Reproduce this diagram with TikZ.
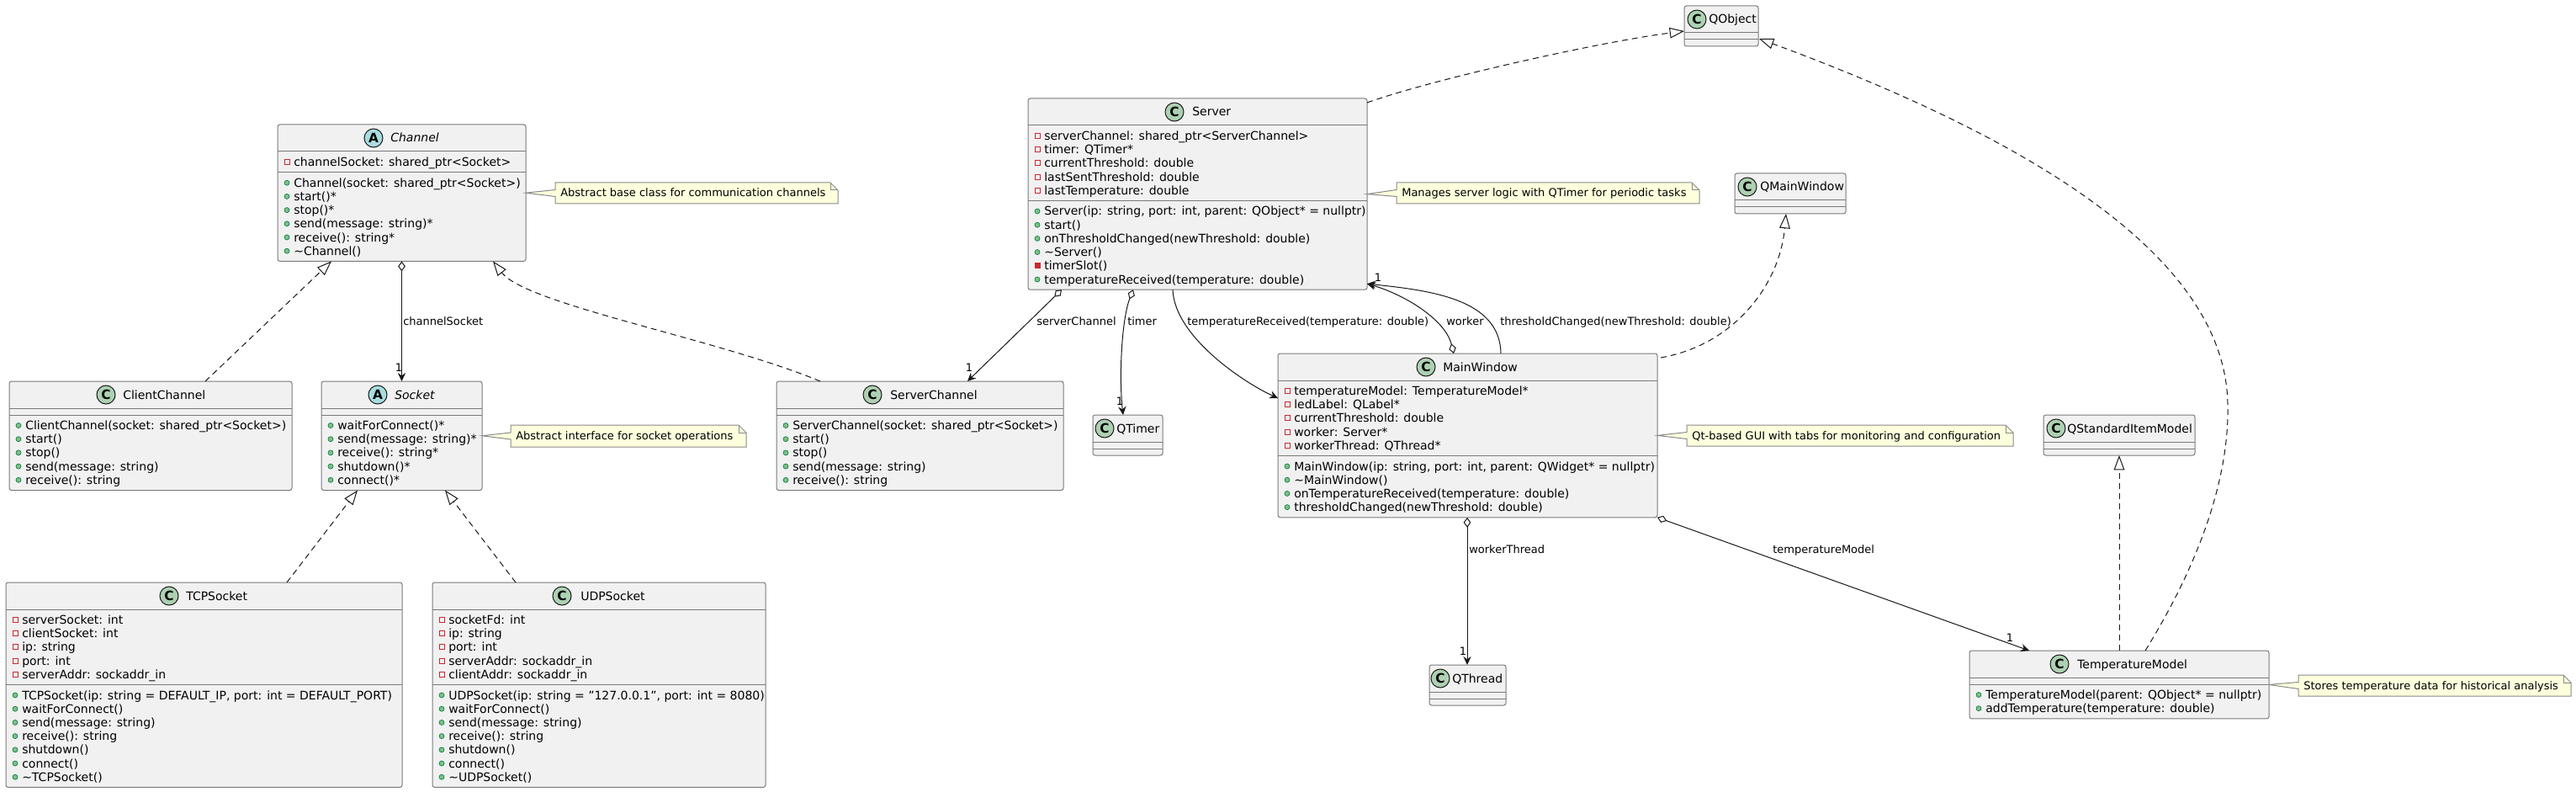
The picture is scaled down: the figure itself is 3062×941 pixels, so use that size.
\documentclass[tikz,border=0pt]{standalone}
\usepackage{fontspec}
\setmainfont{DejaVu Sans}
\usetikzlibrary{arrows.meta,calc}
\definecolor{boxfill}{HTML}{F1F1F1}
\definecolor{boxdraw}{HTML}{7A7A7A}
\definecolor{lineclr}{HTML}{181818}
\definecolor{cfill}{HTML}{ADD1B2}
\definecolor{afill}{HTML}{A9DCDF}
\definecolor{notefill}{HTML}{FEFFDD}
\definecolor{notedraw}{HTML}{8A8A8A}
\definecolor{pubfill}{HTML}{84BE84}
\definecolor{pubdraw}{HTML}{038048}
\definecolor{privclr}{HTML}{C82930}
\newcommand\memfont{\fontsize{10.5}{12}\selectfont}
\newcommand\lblfont{\fontsize{9.75}{11}\selectfont}
\newcommand\circfont{\fontsize{11.5}{12}\selectfont\bfseries}
\newcommand\iconpubm[2]{\filldraw[fill=pubfill,draw=pubdraw,line width=0.5pt] (#1,#2) circle[radius=3];}
\newcommand\iconprivf[2]{\draw[privclr,line width=0.75pt] (#1-3,#2-3) rectangle (#1+3,#2+3);}
\newcommand\iconprivm[2]{\filldraw[fill=privclr,draw=privclr,line width=0.5pt] (#1-3,#2-3) rectangle (#1+3,#2+3);}
\newcommand\members[4]{%
  \foreach \k/\t [count=\i] in {#4}{%
    \pgfmathsetmacro\yy{#3+16.2*(\i-1)}%
    \csname icon\k\endcsname{#2+11}{\yy}%
    \node[mem] (#1-\i) at (#2+19,\yy+5) {\t};%
  }}
\newcommand\umlclass[6]{% name, x, y, w, attr h, meth h
  \node[classbox, minimum width=#4*0.75pt, minimum height={(32+#5+#6)*0.75pt}] (#1) at (#2,#3) {};
  \draw[sepline] (#2,#3+32) -- (#2+#4,#3+32);
  \draw[sepline] (#2,#3+32+#5) -- (#2+#4,#3+32+#5);
}
\newcommand\umlhead[7]{% name, cx, cy, letter, fill, title x, title
  \node[circ, fill=#5] (#1-c) at (#2,#3) {#4};
  \node[ttl] (#1-n) at (#6,#3+5) {#7};
}
\newcommand\umlnote[7]{% name, x1, y1, x2, y2, target, text
  \pgfmathsetmacro\ncy{(#3+#5)/2}%
  \filldraw[notestyle] (#2,#3) -- (#4-9,#3) -- (#4,#3+9) -- (#4,#5) -- (#2,#5) -- (#2,\ncy+4) -- (#6.east) -- (#2,\ncy-4) -- cycle;
  \draw[notestyle, fill=none] (#4-9,#3) -- (#4-9,#3+9) -- (#4,#3+9);
  \node[notetxt] (#1) at (#2+6,\ncy+4.5) {#7};
}
\tikzset{
  classbox/.style={draw=boxdraw, fill=boxfill, line width=0.75pt, rounded corners=2pt, anchor=north west, inner sep=0pt, outer sep=0pt},
  sepline/.style={draw=boxdraw, line width=0.75pt},
  circ/.style={circle, draw=lineclr, line width=0.75pt, minimum size=16.5pt, inner sep=0pt, font=\circfont},
  ttl/.style={anchor=base west, inner sep=0pt, font=\memfont},
  mem/.style={anchor=base west, inner sep=0pt, font=\memfont},
  lbl/.style={anchor=base west, inner sep=0pt, font=\lblfont},
  mult/.style={anchor=center, inner sep=0pt, font=\lblfont},
  notestyle/.style={draw=notedraw, fill=notefill, line width=0.75pt},
  notetxt/.style={anchor=base west, inner sep=0pt, font=\lblfont},
  conn/.style={draw=lineclr, line width=0.75pt},
  realz/.style={conn, dash pattern=on 5.25pt off 3.75pt, -{Triangle[open, fill=white, length=13pt, width=9.5pt]}},
  aggr/.style={conn, {Diamond[fill=white, length=9pt, width=6.5pt]}-{Stealth[length=7.5pt, width=7pt, inset=2.5pt]}},
  assoc/.style={conn, -{Stealth[length=7.5pt, width=7pt, inset=2.5pt]}},
}
\begin{document}
\begin{tikzpicture}[x=0.75pt, y=-0.75pt]
\useasboundingbox (0,0) rectangle (3062,941);
\fill[white] (0,0) rectangle (3062,941);

% ---------- classes ----------
\umlclass{channel}{330}{148}{295}{24.7}{105.7}
\umlhead{channel}{444}{164}{A}{afill}{464}{\itshape Channel}
\members{channel-a}{330}{192.5}{privf/{channelSocket: shared\_ptr<Socket>}}
\members{channel-m}{330}{217.2}{pubm/{Channel(socket: shared\_ptr<Socket>)}, pubm/{start()*}, pubm/{stop()*}, pubm/{send(message: string)*}, pubm/{receive(): string*}, pubm/{\textasciitilde Channel()}}

\umlclass{clientch}{11}{453}{336}{8}{89.5}
\umlhead{clientch}{126}{469}{C}{cfill}{146}{ClientChannel}
\members{clientch-m}{11}{505.5}{pubm/{ClientChannel(socket: shared\_ptr<Socket>)}, pubm/{start()}, pubm/{stop()}, pubm/{send(message: string)}, pubm/{receive(): string}}

\umlclass{socket}{382}{453}{191}{8}{89.5}
\umlhead{socket}{449}{469}{A}{afill}{469}{\itshape Socket}
\members{socket-m}{382}{505.5}{pubm/{waitForConnect()*}, pubm/{send(message: string)*}, pubm/{receive(): string*}, pubm/{shutdown()*}, pubm/{connect()*}}

\umlclass{serverch}{923}{453}{341}{8}{89.5}
\umlhead{serverch}{1037}{469}{C}{cfill}{1058}{ServerChannel}
\members{serverch-m}{923}{505.5}{pubm/{ServerChannel(socket: shared\_ptr<Socket>)}, pubm/{start()}, pubm/{stop()}, pubm/{send(message: string)}, pubm/{receive(): string}}

\umlclass{tcp}{7}{692}{471}{89.5}{121.9}
\umlhead{tcp}{201}{708}{C}{cfill}{221}{TCPSocket}
\members{tcp-a}{7}{736.5}{privf/{serverSocket: int}, privf/{clientSocket: int}, privf/{ip: string}, privf/{port: int}, privf/{serverAddr: sockaddr\_in}}
\members{tcp-m}{7}{826}{pubm/{TCPSocket(ip: string = DEFAULT\_IP, port: int = DEFAULT\_PORT)}, pubm/{waitForConnect()}, pubm/{send(message: string)}, pubm/{receive(): string}, pubm/{shutdown()}, pubm/{connect()}, pubm/{\textasciitilde TCPSocket()}}

\umlclass{udp}{514}{692}{396}{89.5}{121.9}
\umlhead{udp}{668}{708}{C}{cfill}{690}{UDPSocket}
\members{udp-a}{514}{736.5}{privf/{socketFd: int}, privf/{ip: string}, privf/{port: int}, privf/{serverAddr: sockaddr\_in}, privf/{clientAddr: sockaddr\_in}}
\members{udp-m}{514}{826}{pubm/{UDPSocket(ip: string = "127.0.0.1", port: int = 8080)}, pubm/{waitForConnect()}, pubm/{send(message: string)}, pubm/{receive(): string}, pubm/{shutdown()}, pubm/{connect()}, pubm/{\textasciitilde UDPSocket()}}

\umlclass{server}{1222}{117}{403}{89.5}{105.7}
\umlhead{server}{1396}{133}{C}{cfill}{1417}{Server}
\members{server-a}{1222}{161.5}{privf/{serverChannel: shared\_ptr<ServerChannel>}, privf/{timer: QTimer*}, privf/{currentThreshold: double}, privf/{lastSentThreshold: double}, privf/{lastTemperature: double}}
\members{server-m}{1222}{251}{pubm/{Server(ip: string, port: int, parent: QObject* = nullptr)}, pubm/{start()}, pubm/{onThresholdChanged(newThreshold: double)}, pubm/{\textasciitilde Server()}, privm/{timerSlot()}, pubm/{temperatureReceived(temperature: double)}}

\umlclass{qobject}{2002}{7}{88}{8}{8}
\umlhead{qobject}{2017}{23}{C}{cfill}{2031}{QObject}

\umlclass{qtimer}{1299}{493}{83}{8}{8}
\umlhead{qtimer}{1313}{509}{C}{cfill}{1327}{QTimer}

\umlclass{mainwin}{1519}{420}{451}{89.5}{73.3}
\umlhead{mainwin}{1695}{436}{C}{cfill}{1715}{MainWindow}
\members{mainwin-a}{1519}{464.5}{privf/{temperatureModel: TemperatureModel*}, privf/{ledLabel: QLabel*}, privf/{currentThreshold: double}, privf/{worker: Server*}, privf/{workerThread: QThread*}}
\members{mainwin-m}{1519}{554}{pubm/{MainWindow(ip: string, port: int, parent: QWidget* = nullptr)}, pubm/{\textasciitilde MainWindow()}, pubm/{onTemperatureReceived(temperature: double)}, pubm/{thresholdChanged(newThreshold: double)}}

\umlclass{qmainwin}{2062}{206}{132}{8}{8}
\umlhead{qmainwin}{2077}{222}{C}{cfill}{2092}{QMainWindow}

\umlclass{qthread}{1699}{790}{91}{8}{8}
\umlhead{qthread}{1712}{806}{C}{cfill}{1726}{QThread}

\umlclass{qsim}{2429}{493}{180}{8}{8}
\umlhead{qsim}{2444}{509}{C}{cfill}{2457}{QStandardItemModel}

\umlclass{tempmodel}{2341}{773}{356}{8}{40.9}
\umlhead{tempmodel}{2448}{789}{C}{cfill}{2469}{TemperatureModel}
\members{tempmodel-m}{2341}{825.5}{pubm/{TemperatureModel(parent: QObject* = nullptr)}, pubm/{addTemperature(temperature: double)}}

% ---------- notes ----------
\umlnote{note1}{660}{217}{996}{242}{channel}{Abstract base class for communication channels}
\umlnote{note2}{607}{505}{887}{531}{socket}{Abstract interface for socket operations}
\umlnote{note3}{1660}{217}{2020}{242}{server}{Manages server logic with QTimer for periodic tasks}
\umlnote{note4}{2005}{505}{2393}{530}{mainwin}{Qt-based GUI with tabs for monitoring and configuration}
\umlnote{note5}{2732}{802}{3056}{827}{tempmodel}{Stores temperature data for historical analysis}

% ---------- connectors ----------
\draw[realz] ($(clientch.north west)+(233,0)$) -- ($(channel.south west)+(64,0)$);
\draw[aggr] (channel.south) -- (socket.north);
\draw[realz] ($(serverch.north west)+(52,0)$) .. controls (855,403) and (626,362) .. ($(channel.south west)+(256,0)$);
\draw[realz] ($(tcp.north west)+(334,0)$) -- ($(socket.south west)+(43,0)$);
\draw[realz] ($(udp.north west)+(99,0)$) -- ($(socket.south west)+(147,0)$);
\draw[aggr] ($(server.south west)+(40,0)$) -- ($(serverch.north west)+(227,0)$);
\draw[aggr] ($(server.south west)+(125,0)$) .. controls (1333,380) and (1330,450) .. ($(qtimer.north west)+(36,0)$);
\draw[assoc] ($(server.south west)+(172,0)$) .. controls (1396,400) and (1479,455) .. ($(mainwin.north west)+(0,53)$);
\draw[aggr] ($(mainwin.north west)+(209,0)$) .. controls (1718,380) and (1670,350) .. ($(server.south east)+(0,-7)$);
\draw[assoc] ($(mainwin.north west)+(265,0)$) .. controls (1783,355) and (1700,345) .. ($(server.south east)+(0,-7)$);
\draw[aggr] ($(mainwin.south west)+(225,0)$) -- ($(qthread.north west)+(45,0)$);
\draw[aggr] (mainwin.south east) -- ($(tempmodel.north west)+(71,0)$);
\draw[realz] ($(mainwin.north east)+(4,5)$) .. controls (2060,410) and (2115,340) .. ($(qmainwin.south west)+(61,0)$);
\draw[realz] ($(server.north east)+(0,5)$) .. controls (1700,95) and (1900,50) .. ($(qobject.north west)+(0,30)$);
\coordinate (bend1) at (2648,480);
\draw[realz] ($(tempmodel.north west)+(209,0)$) .. controls (2620,660) and (2650,560) .. (bend1) .. controls (2645,300) and (2400,160) .. ($(qobject.south east)+(1,-9)$);
\draw[realz] ($(tempmodel.north west)+(178,0)$) -- ($(qsim.south west)+(90,0)$);

% ---------- labels ----------
\node[lbl] (l1) at (479,386.5) {channelSocket};
\node[mult] (m1) at (474,437) {1};
\node[lbl] (l2) at (1232,386.5) {serverChannel};
\node[mult] (m2) at (1152,437) {1};
\node[lbl] (l3) at (1340,386.5) {timer};
\node[mult] (m3) at (1331,477) {1};
\node[lbl] (l4) at (1411,386.5) {temperatureReceived(temperature: double)};
\node[lbl] (l5) at (1719,386.5) {worker};
\node[lbl] (l6) at (1783,386.5) {thresholdChanged(newThreshold: double)};
\node[mult] (m4) at (1638,330) {1};
\node[lbl] (l7) at (1746,657.5) {workerThread};
\node[mult] (m5) at (1739,774) {1};
\node[lbl] (l8) at (2107,657.5) {temperatureModel};
\node[mult] (m6) at (2389,758) {1};
\end{tikzpicture}
\end{document}
